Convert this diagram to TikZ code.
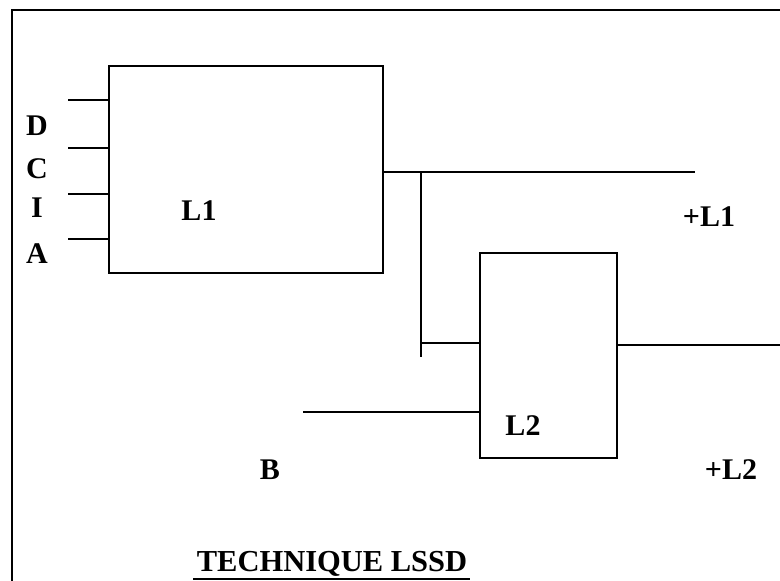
\documentclass[tikz,border=0pt]{standalone}
\usepackage{fontspec}
\setmainfont{Liberation Serif}
\begin{document}
\begin{tikzpicture}[x=1pt,y=-1pt,
  blk/.style={draw,line width=1.5pt,minimum width=#1,inner sep=0pt},
  wire/.style={line width=1.5pt},
  thick wire/.style={line width=2.5pt},
  lbl/.style={font=\fontsize{30}{32}\selectfont\bfseries,inner sep=0pt}]
\useasboundingbox (0,0) rectangle (780,581);
% frame
\draw[line width=2.8pt] (12,581) -- (12,10) -- (780,10);
% blocks
\node[blk=274pt,minimum height=207pt] (L1) at (246,169.5) {};
\node[blk=137pt,minimum height=205pt] (L2) at (548.5,355.5) {};
% labels
\node[lbl] (lD) at (37,126) {D};
\node[lbl] (lC) at (37,169) {C};
\node[lbl] (lI) at (37,208) {I};
\node[lbl] (lA) at (37,254) {A};
\node[lbl] (tL1) at (199,211) {L1};
\node[lbl] (tL2) at (523,426) {L2};
\node[lbl] (tpL1) at (709,217) {+L1};
\node[lbl] (tpL2) at (731,470) {+L2};
\node[lbl] (tB) at (270,470) {B};
\node[lbl,font=\fontsize{30.5}{32}\selectfont\bfseries,anchor=base] (title) at (332,571) {TECHNIQUE LSSD};
% input wires
\coordinate (iD) at (68,100);
\coordinate (iC) at (68,148);
\coordinate (iI) at (68,194);
\coordinate (iA) at (68,239);
\draw[thick wire] (iD) -- (iD -| L1.west);
\draw[thick wire] (iC) -- (iC -| L1.west);
\draw[thick wire] (iI) -- (iI -| L1.west);
\draw[thick wire] (iA) -- (iA -| L1.west);
% L1 output
\coordinate (o1) at (383,172);
\coordinate (o1end) at (695,172);
\coordinate (j1) at (421,172);
\coordinate (j1b) at (421,357);
\coordinate (j2) at (421,343);
\draw[wire] (o1 -| L1.east) -- (o1end);
\draw[thick wire] (j1) -- (j1b);
\draw[wire] (j2) -- (j2 -| L2.west);
% B input
\coordinate (bin) at (303,412);
\draw[thick wire] (bin) -- (bin -| L2.west);
% L2 output
\coordinate (o2end) at (780,345);
\draw[wire] (o2end -| L2.east) -- (o2end);
% title underline
\coordinate (u1) at (193,579);
\coordinate (u2) at (470,579);
\draw[line width=1.8pt] (u1) -- (u2);
\end{tikzpicture}
\end{document}
